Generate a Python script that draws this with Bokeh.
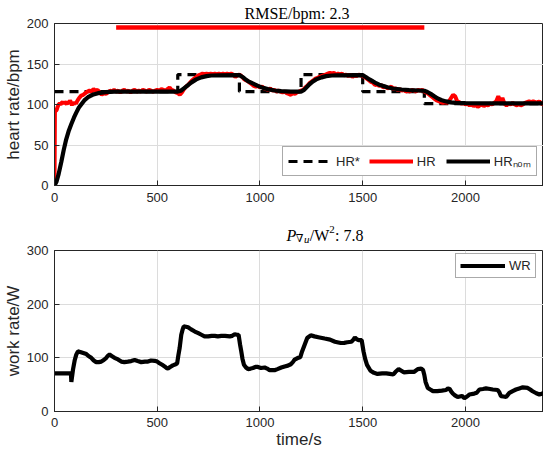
from bokeh.plotting import figure
from bokeh.models import Range1d, FixedTicker, Legend, LegendItem
from bokeh.core.properties import value
from bokeh.layouts import column
from bokeh.embed import file_html
from bokeh.resources import INLINE

# ---------------- data ----------------
x_ticks = [0, 500, 1000, 1500, 2000]
hr_ticks = [0, 50, 100, 150, 200]
wr_ticks = [0, 100, 200, 300]

# reference heart rate HR* (dashed steps)
ref_t = [0, 600, 600, 900, 900, 1200, 1200, 1500, 1500, 1800, 1800, 2400]
ref_hr = [116, 116, 137, 137, 116, 116, 137, 137, 116, 116, 101, 101]

# measured heart rate HR (red)
hr_t = [0, 2, 5, 10, 15, 20, 25, 30, 35, 40, 45, 50, 55, 60, 65, 70, 75, 80, 85, 90, 95,
        100, 105, 110, 115, 120, 130, 140, 150, 160, 170, 180, 190, 200, 210, 220, 230,
        240, 250, 260, 270, 280, 290, 300, 310, 320, 330, 340, 350, 360, 370, 380, 390,
        400, 410, 420, 430, 440, 450, 460, 470, 480, 490, 500, 510, 520, 530, 540, 550,
        560, 570, 580, 590, 600, 610, 620, 630, 640, 650, 660, 670, 680, 690, 700, 710,
        720, 730, 740, 750, 760, 770, 780, 790, 800, 810, 820, 830, 840, 850, 860, 870,
        880, 890, 900, 910, 920, 930, 940, 950, 960, 970, 980, 990, 1000, 1010, 1020,
        1030, 1040, 1050, 1060, 1070, 1080, 1090, 1100, 1110, 1120, 1130, 1140, 1150,
        1160, 1170, 1180, 1190, 1200, 1210, 1220, 1230, 1240, 1250, 1260, 1270, 1280,
        1290, 1300, 1310, 1320, 1330, 1340, 1350, 1360, 1370, 1380, 1390, 1400, 1410,
        1420, 1430, 1440, 1450, 1460, 1470, 1480, 1490, 1500, 1510, 1520, 1530, 1540,
        1550, 1560, 1570, 1580, 1590, 1600, 1610, 1620, 1630, 1640, 1650, 1660, 1670,
        1680, 1690, 1700, 1710, 1720, 1730, 1740, 1750, 1760, 1770, 1780, 1790, 1800,
        1810, 1820, 1830, 1840, 1850, 1860, 1870, 1880, 1890, 1900, 1910, 1920, 1930,
        1940, 1950, 1960, 1970, 1980, 1990, 2000, 2010, 2020, 2030, 2040, 2050, 2060,
        2070, 2080, 2090, 2100, 2110, 2120, 2130, 2140, 2150, 2160, 2170, 2180, 2190,
        2200, 2210, 2220, 2230, 2240, 2250, 2260, 2270, 2280, 2290, 2300, 2310, 2320,
        2330, 2340, 2350, 2360, 2370, 2380]
hr_val = [0, 90, 92, 93, 97, 100, 101, 100, 102, 103, 101, 103, 102, 100, 104, 101, 105, 103, 99, 102, 100,
          103, 101, 104, 106, 108, 111, 112, 114, 116, 117, 116, 119, 117, 118, 115, 112,
          114, 113, 115, 117, 116, 118, 116, 117, 115, 117, 118, 116, 117, 115, 117, 118,
          116, 117, 116, 118, 117, 116, 118, 117, 116, 117, 118, 117, 119, 118, 117, 119,
          121, 118, 117, 115, 114, 112, 115, 119, 122, 124, 127, 130, 132, 134, 136, 137,
          138, 137, 138, 137, 138, 137, 138, 137, 138, 137, 138, 137, 138, 137, 138, 137,
          134, 136, 137, 135, 132, 130, 129, 127, 125, 123, 122, 123, 121, 122, 120,
          119, 118, 120, 117, 118, 116, 117, 116, 115, 116, 114, 113, 112,
          114, 113, 115, 116, 117, 118, 121, 123, 126, 128, 130, 132, 133,
          134, 135, 136, 137, 138, 139, 138, 139, 137, 138, 137, 138, 136,
          137, 135, 137, 134, 136, 135, 137, 136, 135, 134, 132, 130, 128,
          127, 124, 125, 123, 124, 121, 122, 120, 121, 122, 119, 120, 118,
          119, 117, 118, 116, 117, 116, 118, 117, 116, 118, 117, 118, 116,
          115, 113, 111, 109, 107, 105, 104, 103, 102, 103, 102, 104, 108,
          112, 110, 104, 103, 101, 102, 100, 101, 99, 101, 98, 100, 97,
          99, 101, 98, 100, 99, 101, 100, 102, 104, 110, 104, 108, 101,
          99, 101, 100, 102, 100, 99, 101, 99, 100, 102, 103, 104, 103,
          104, 103, 102, 104, 101, 100]

# nominal model heart rate HR_nom (black)
nom_t = [0, 10, 20, 33, 45, 57, 70, 82, 95, 106, 118, 130, 145, 163, 185, 212, 250, 293, 350,
         600, 615, 630, 650, 665, 690, 714, 740, 763, 800, 900, 915, 930, 941, 965, 990,
         1015, 1038, 1070, 1103, 1150, 1200, 1215, 1241, 1258, 1274, 1300, 1322, 1350,
         1371, 1500, 1515, 1533, 1550, 1565, 1580, 1598, 1620, 1646, 1690, 1727, 1800,
         1815, 1833, 1850, 1865, 1885, 1906, 1930, 1954, 2000, 2100, 2400]
nom_hr = [0, 5, 14, 29, 44, 57, 68, 76, 84, 90, 96, 100, 105, 109, 112, 114, 115.3, 115.8, 116,
          116, 117, 120, 124, 127, 131, 133.5, 135, 135.8, 136, 136.2, 134, 131, 129, 126, 123,
          120.5, 119, 117.3, 116.5, 116, 116, 118, 125, 128.5, 131, 133.5, 135, 135.8,
          136, 136.2, 134, 131, 128.5, 126.3, 124.5, 123, 121.3, 119.8, 118.5, 117.8, 117,
          115.5, 112.8, 110, 107.5, 105.3, 103.8, 102.6, 102, 101.6, 101.4, 101.3]

# red bar (interval marker) at the top
bar_t = [300, 1800]
bar_hr = [195, 195]

# work rate WR
wr_t = [0, 80, 82, 90, 98, 106, 114, 125, 140, 155, 167, 179, 191, 203, 215, 228, 240, 252,
        260, 268, 280, 292, 309, 325, 340, 357, 373, 390, 405, 422, 440, 455, 470, 487, 500,
        511, 524, 536, 545, 552, 563, 576, 590, 597, 603, 609, 617, 623, 629, 640, 650, 665,
        683, 700, 715, 730, 748, 765, 780, 795, 812, 830, 853, 865, 877, 888, 896, 903, 909,
        915, 922, 932, 942, 955, 966, 978, 990, 1005, 1023, 1035, 1047, 1060, 1071, 1085,
        1104, 1120, 1136, 1150, 1160, 1169, 1185, 1196, 1205, 1218, 1230, 1247, 1265, 1290,
        1315, 1341, 1365, 1393, 1410, 1425, 1445, 1455, 1462, 1470, 1480, 1495, 1504, 1512,
        1521, 1538, 1555, 1572, 1595, 1615, 1632, 1649, 1660, 1675, 1688, 1700, 1725, 1751,
        1768, 1785, 1794, 1800, 1806, 1817, 1829, 1842, 1863, 1885, 1906, 1915, 1923, 1931,
        1940, 1949, 1962, 1983, 1995, 2008, 2019, 2043, 2055, 2068, 2085, 2100, 2120, 2133,
        2157, 2165, 2173, 2185, 2198, 2206, 2214, 2230, 2246, 2262, 2279, 2303, 2315, 2327,
        2345, 2360, 2372, 2381]
wr_val = [71, 71, 55, 78, 95, 106, 112, 111, 109, 107, 103, 100, 95, 92, 92, 93, 96, 100,
          104, 106, 103, 100, 97, 93, 92, 93, 94, 96, 94, 92, 93, 93, 95, 94.5, 93,
          90, 87, 84, 81, 80, 83, 86, 88, 90, 105, 118, 143, 152, 158.6, 158, 157, 153,
          149, 146, 143, 140, 140, 141, 141, 140, 141, 141, 140, 141, 144, 143, 143, 125, 112,
          98, 87, 82, 79, 80, 81, 83, 83, 81, 82, 80, 77, 77, 77, 79,
          82, 84, 85.5, 88, 92, 96.7, 100, 101, 112, 125, 137, 142, 140, 138,
          136, 134, 130, 127.6, 128, 129, 130, 134, 138, 135, 133, 133, 112, 98,
          87, 76, 72, 70, 71, 71, 70, 69, 74, 79, 76, 73, 74, 74,
          79, 80, 77, 68, 55, 44, 41, 38, 38, 39, 40, 43, 42, 37,
          33, 30, 27, 29, 25, 28, 31.6, 33.4, 35, 41, 42, 43, 42, 41,
          40, 36, 28.5, 28, 27, 31, 34.7, 38, 41, 43, 45, 44, 41, 37.8,
          34, 31.6, 33, 35]

# ---------------- styling helpers ----------------
AX = "#262626"
SANS = "Liberation Sans"
SERIF = "Liberation Serif"
X_END = 2380
W = 543
LEFT = 54


def style(p, yticks, ylabel):
    p.outline_line_color = AX
    p.outline_line_width = 1
    p.background_fill_color = "white"
    for ax in p.xaxis + p.yaxis:
        ax.axis_line_color = AX
        ax.major_tick_line_color = AX
        ax.major_tick_in = 5
        ax.major_tick_out = 0
        ax.minor_tick_line_color = None
        ax.major_label_text_font = SANS
        ax.major_label_text_font_size = "13px"
        ax.major_label_text_color = AX
        ax.axis_label_text_font = SANS
        ax.axis_label_text_font_size = "17px"
        ax.axis_label_text_font_style = "normal"
        ax.axis_label_text_color = AX
    p.xaxis.ticker = FixedTicker(ticks=x_ticks)
    p.yaxis.ticker = FixedTicker(ticks=yticks)
    p.yaxis.major_label_standoff = 6
    p.yaxis.axis_label_standoff = 1
    p.yaxis.axis_label = ylabel
    p.xaxis.major_label_standoff = 7
    p.xgrid.ticker = FixedTicker(ticks=x_ticks)
    p.ygrid.ticker = FixedTicker(ticks=yticks)
    for g in (p.xgrid, p.ygrid):
        g.grid_line_color = "#dcdcdc"
        g.grid_line_width = 1


# ---------------- top panel ----------------
p1 = figure(width=W, height=210, x_range=Range1d(0, X_END), y_range=Range1d(0, 200),
            output_backend="svg", toolbar_location=None,
            min_border_left=LEFT, min_border_right=0, min_border_top=23, min_border_bottom=25)
style(p1, hr_ticks, "heart rate/bpm")
p1.title.text = "RMSE/bpm:  2.3"
p1.title.align = "center"
p1.title.text_font = SERIF
p1.title.text_font_size = "16px"
p1.title.text_font_style = "normal"
p1.title.text_color = "black"
p1.title.standoff = 3

r_ref = p1.line(ref_t, ref_hr, line_color="black", line_width=3.2, line_dash="9 6")
r_hr = p1.line(hr_t, hr_val, line_color="#ff0000", line_width=4)
r_nom = p1.line(nom_t, nom_hr, line_color="black", line_width=4.2)
p1.line(bar_t, bar_hr, line_color="#ff0000", line_width=4.5)

leg1 = Legend(items=[LegendItem(label="HR*", renderers=[r_ref]),
                     LegendItem(label="HR", renderers=[r_hr]),
                     LegendItem(label="HR\u2099\u2092\u2098", renderers=[r_nom])],
              orientation="horizontal", location=(228, 9),
              glyph_width=44, glyph_height=14, label_height=14, label_standoff=4,
              spacing=9, padding=5, margin=0,
              label_text_font=SANS, label_text_font_size="13px", label_text_color=AX,
              border_line_color="#555555", border_line_width=1, background_fill_alpha=1)
p1.add_layout(leg1)

# ---------------- bottom title  P_{nabla u}/W^2: 7.8 ----------------
t2 = figure(width=W, height=33, x_range=Range1d(0, W), y_range=Range1d(0, 33),
            output_backend="svg", toolbar_location=None, title=None,
            x_axis_location=None, y_axis_location=None,
            min_border=0, min_border_left=0, min_border_right=0,
            min_border_top=0, min_border_bottom=0)
t2.title = None
t2.outline_line_color = None
t2.xgrid.visible = False
t2.ygrid.visible = False
b = 8
t2_pieces = [
    ("P", 257.5, b, "16px", "italic", SERIF),
    ("\u2207", 268, b - 3, "11px", "normal", "DejaVu Serif"),
    ("u", 277, b - 3, "11px", "italic", SERIF),
    ("/", 283.5, b, "16px", "normal", SERIF),
    ("W", 288.5, b, "16px", "normal", SERIF),
    ("2", 305, b + 6, "11px", "normal", SERIF),
    (":  7.8", 311.5, b, "16px", "normal", SERIF),
]
for txt, xx, yy, fs, st, fn in t2_pieces:
    t2.text(x=[xx], y=[yy], text=[txt], text_align="left", text_baseline="alphabetic",
            text_font=value(fn), text_font_size=fs, text_font_style=st, text_color="black")

# ---------------- bottom panel ----------------
p2 = figure(width=W, height=209, x_range=Range1d(0, X_END), y_range=Range1d(0, 300),
            output_backend="svg", toolbar_location=None, title=None,
            min_border_left=LEFT, min_border_right=0, min_border_top=7, min_border_bottom=41)
p2.title = None
style(p2, wr_ticks, "work rate/W")
p2.xaxis.axis_label = "time/s"
p2.xaxis.axis_label_standoff = 0
p2.xaxis.major_label_standoff = 6

r_wr = p2.line(wr_t, wr_val, line_color="black", line_width=4.2)
leg2 = Legend(items=[LegendItem(label="WR", renderers=[r_wr])],
              orientation="horizontal", location=(401, 133),
              glyph_width=45, glyph_height=13, label_height=13, label_standoff=4,
              spacing=0, padding=4, margin=0,
              label_text_font=SANS, label_text_font_size="13px", label_text_color=AX,
              border_line_color="#555555", border_line_width=1, background_fill_alpha=1)
p2.add_layout(leg2)

layout = column(p1, t2, p2, spacing=0)
open("out.html", "w").write(file_html(layout, INLINE))
